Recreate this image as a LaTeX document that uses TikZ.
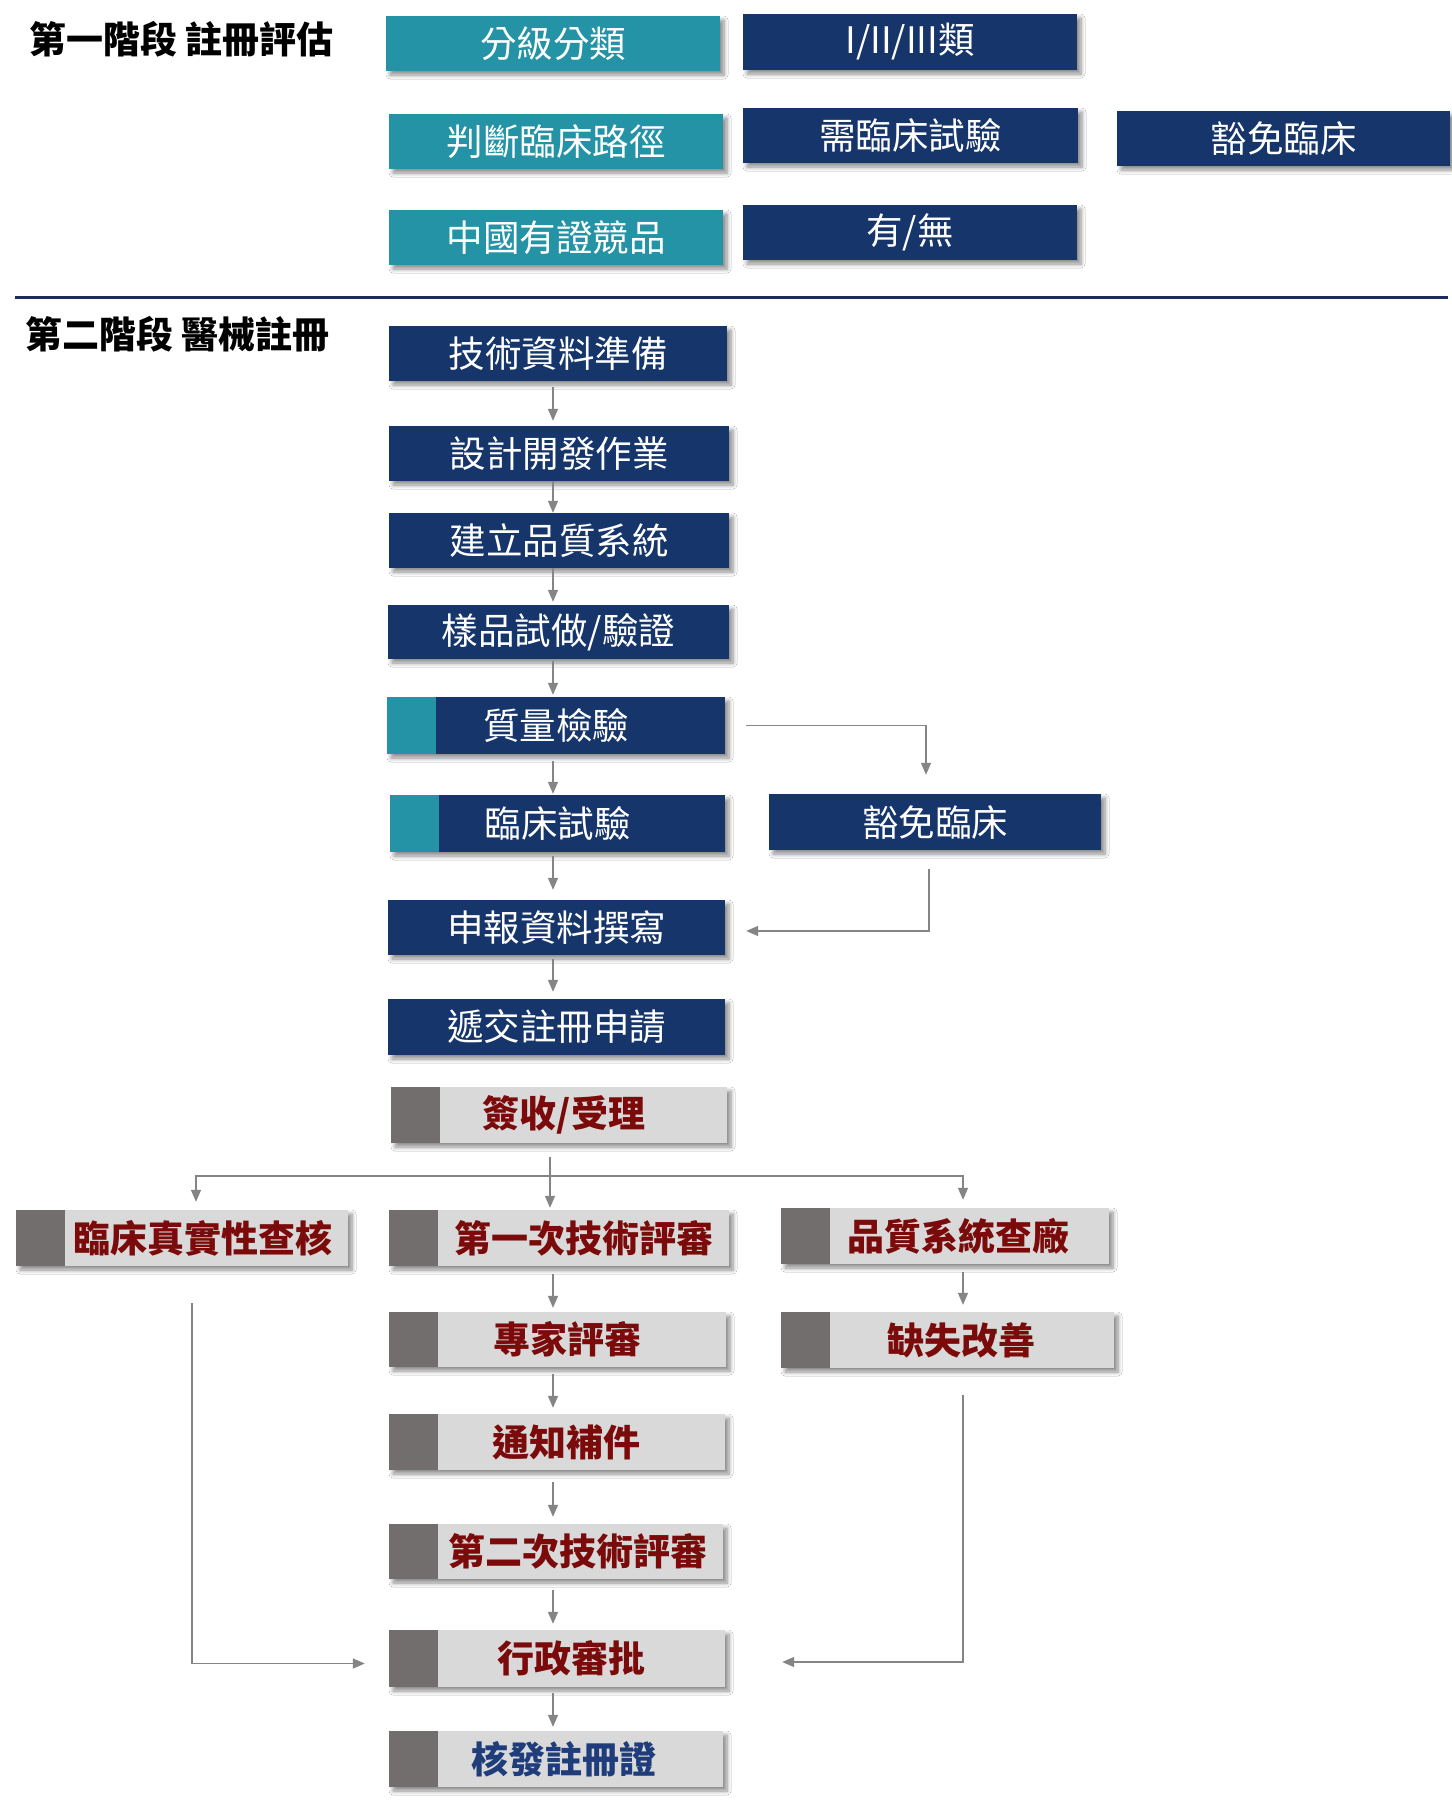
\documentclass[tikz,border=0pt]{standalone}
\usepackage{fontspec}
\newfontfamily\cjk{Noto Sans CJK TC}
\usetikzlibrary{arrows.meta,shadows.blur,calc}
\definecolor{navyc}{HTML}{16356B}
\definecolor{tealc}{HTML}{2493A6}
\definecolor{lightc}{HTML}{D9D9D9}
\definecolor{stripec}{HTML}{726E6D}
\definecolor{redc}{HTML}{7B0A0A}
\definecolor{certc}{HTML}{1F3D7A}
\definecolor{sepc}{HTML}{1D2B5E}
\definecolor{arrc}{HTML}{858585}
\begin{document}
\begin{tikzpicture}[x=1pt,y=-1pt,
  box/.style={rectangle, inner sep=0pt, minimum height=55pt,
    font=\cjk\fontsize{36.5}{40}\selectfont,
    blur shadow={shadow xshift=4pt, shadow yshift=-4pt, shadow blur radius=4pt, shadow blur steps=6, shadow opacity=45}},
  navybox/.style={box, fill=navyc, text=white},
  tealbox/.style={box, fill=tealc, text=white},
  tealstripe/.style={navybox, path picture={\fill[tealc] (path picture bounding box.south west) rectangle ([xshift=49pt]path picture bounding box.north west);}},
  greybox/.style={box, fill=lightc, text=redc, font=\cjk\bfseries\fontsize{37}{40}\selectfont,
    path picture={\fill[stripec] (path picture bounding box.south west) rectangle ([xshift=49pt]path picture bounding box.north west);}},
  titletext/.style={anchor=west, inner sep=0pt, font=\cjk\bfseries\fontsize{37}{40}\selectfont},
  arr/.style={draw=arrc, line width=1.4pt, -{Triangle[length=12pt,width=10pt]}},
]
\fill[white] (0,0) rectangle (1451,1815);
\useasboundingbox (0,0) rectangle (1451,1815);

% Phase 1
\node[titletext] (t1) at (29,39) {第一階段 註冊評估};
\node[tealbox, minimum width=334pt] (cls) at (553,43.5) {分級分類};
\node[tealbox, minimum width=334pt] (route) at (556,141.5) {判斷臨床路徑};
\node[tealbox, minimum width=334pt] (comp) at (556,237.5) {中國有證競品};
\node[navybox, minimum width=334pt, minimum height=56pt] (cls2) at (910,42) {I/II/III類};
\node[navybox, minimum width=335pt] (need) at (910.5,135.5) {需臨床試驗};
\node[navybox, minimum width=333pt] (ex1) at (1283.5,138.5) {豁免臨床};
\node[navybox, minimum width=334pt] (yn) at (910,232.5) {有/無};

\draw[sepc, line width=3pt] (15,297) -- (1448,297);

% Phase 2
\node[titletext] (t2) at (25,334) {第二階段 醫械註冊};
\node[navybox, minimum width=338pt] (tech) at (558,353.5) {技術資料準備};
\node[navybox, minimum width=340pt] (design) at (559,453.5) {設計開發作業};
\node[navybox, minimum width=340pt] (qms) at (559,540.5) {建立品質系統};
\node[navybox, minimum width=341pt, minimum height=54pt] (sample) at (558.5,632) {樣品試做/驗證};
\node[tealstripe, minimum width=338pt, minimum height=57pt] (qc) at (556,725.5) {質量檢驗};
\node[tealstripe, minimum width=335pt, minimum height=57pt] (clin) at (557.5,823.5) {臨床試驗};
\node[navybox, minimum width=332pt, minimum height=56pt] (ex2) at (935,822) {豁免臨床};
\node[navybox, minimum width=337pt] (decl) at (556.5,927.5) {申報資料撰寫};
\node[navybox, minimum width=337pt, minimum height=56pt] (submit) at (556.5,1027) {遞交註冊申請};

\node[greybox, minimum width=336pt, minimum height=56pt] (recv) at (559,1115) {\hspace*{10pt}簽收/受理};
\node[greybox, minimum width=332pt, minimum height=56pt] (auth) at (182,1238) {\hspace*{42pt}臨床真實性查核};
\node[greybox, minimum width=340pt, minimum height=56pt] (rev1) at (559,1238) {\hspace*{50pt}第一次技術評審};
\node[greybox, minimum width=328pt, minimum height=56pt] (qs) at (945,1236) {\hspace*{26pt}品質系統查廠};
\node[greybox, minimum width=333pt, minimum height=56pt] (fix) at (947.5,1340) {\hspace*{27pt}缺失改善};
\node[greybox, minimum width=337pt] (expert) at (557.5,1339.5) {\hspace*{19pt}專家評審};
\node[greybox, minimum width=336pt, minimum height=56pt] (notice) at (557,1442) {\hspace*{18pt}通知補件};
\node[greybox, minimum width=334pt] (rev2) at (556,1551.5) {\hspace*{44pt}第二次技術評審};
\node[greybox, minimum width=336pt, minimum height=57pt] (admin) at (557,1658.5) {\hspace*{28pt}行政審批};
\node[greybox, minimum width=334pt, minimum height=56pt, text=certc] (cert) at (556,1759) {\hspace*{16pt}核發註冊證};

% connectors
\coordinate (colx) at (553,0);
\coordinate (rx) at (963,0);
\coordinate (split) at (550,1176);

\draw[arr, shorten <=6pt, shorten >=5pt] (tech.south -| colx) -- (design.north -| colx);
\draw[arr, shorten >=0pt] (design.south -| colx) -- (qms.north -| colx);
\draw[arr, shorten >=3pt] (qms.south -| colx) -- (sample.north -| colx);
\draw[arr, shorten <=2pt, shorten >=2pt] (sample.south -| colx) -- (qc.north -| colx);
\draw[arr, shorten <=7pt, shorten >=1pt] (qc.south -| colx) -- (clin.north -| colx);
\draw[arr, shorten <=4pt, shorten >=10pt] (clin.south -| colx) -- (decl.north -| colx);
\draw[arr, shorten <=4pt, shorten >=7pt] (decl.south -| colx) -- (submit.north -| colx);

\draw[arr, shorten <=21pt, shorten >=19pt] (qc.east) -| ([xshift=-9pt]ex2.north);
\draw[arr, shorten <=19pt, shorten >=21pt] ([xshift=-6pt]ex2.south) |- ([yshift=-3.5pt]decl.east);

\draw[arr, shorten <=14pt, shorten >=2pt] (recv.south -| split) -- (rev1.north -| split);
\draw[arr, shorten >=8pt] (split) -| ([xshift=14pt]auth.north);
\draw[arr, shorten >=8pt] (split) -| (qs.north -| rx);

\draw[arr, shorten <=8pt, shorten >=4pt] (rev1.south -| colx) -- (expert.north -| colx);
\draw[arr, shorten <=7pt, shorten >=6pt] (expert.south -| colx) -- (notice.north -| colx);
\draw[arr, shorten <=12pt, shorten >=7pt] (notice.south -| colx) -- (rev2.north -| colx);
\draw[arr, shorten <=11pt, shorten >=6pt] (rev2.south -| colx) -- (admin.north -| colx);
\draw[arr, shorten <=6pt, shorten >=4pt] (admin.south -| colx) -- (cert.north -| colx);

\draw[arr, shorten <=8pt, shorten >=7pt] (qs.south -| rx) -- (fix.north -| rx);
\draw[arr, shorten <=37pt, shorten >=24pt] ([xshift=10pt]auth.south) |- ([yshift=-5pt]admin.west);
\draw[arr, shorten <=27pt, shorten >=57pt] (fix.south -| rx) |- ([yshift=-3.5pt]admin.east);
\end{tikzpicture}
\end{document}
